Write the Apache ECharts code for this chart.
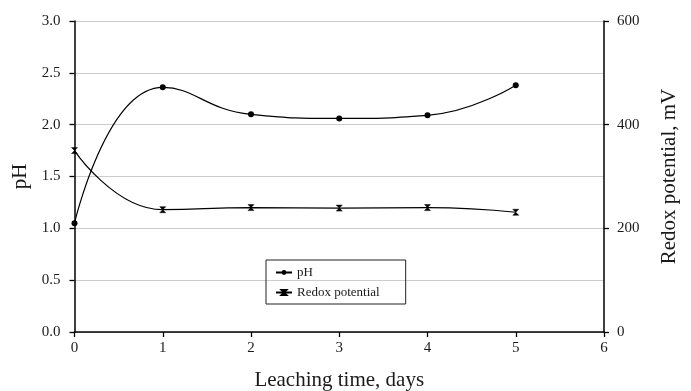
<!DOCTYPE html>
<html>
<head>
<meta charset="utf-8">
<script src="https://cdn.jsdelivr.net/npm/echarts@6/dist/echarts.min.js"></script>
<style>
html,body{margin:0;padding:0;background:#fff;}
#c{width:691px;height:391px;}
</style>
</head>
<body>
<div id="c"></div>
<script>
// Data
const days = [0, 1, 2, 3, 4, 5];
const phValues = [1.05, 2.36, 2.10, 2.06, 2.09, 2.38];
const redoxValues = [350, 236, 240, 239, 240, 231];
const seriesNames = ['pH', 'Redox potential'];
const xTitle = 'Leaching time, days';
const leftTitle = 'pH';
const rightTitle = 'Redox potential, mV';

const font = 'Liberation Serif';
const ink = '#1a1a1a';

const chart = echarts.init(document.getElementById('c'), null, {renderer: 'canvas'});
chart.setOption({
  backgroundColor: '#fff',
  animation: false,
  textStyle: {fontFamily: font, color: ink},
  grid: {left: 74.5, right: 87, top: 21, bottom: 59, containLabel: false, outerBoundsMode: 'none'},
  legend: {
    left: 266, top: 260,
    orient: 'vertical',
    data: seriesNames,
    borderColor: '#222', borderWidth: 1,
    padding: [6, 26, 5, 9],
    itemGap: 7,
    itemWidth: 16, itemHeight: 6,
    textStyle: {fontFamily: font, fontSize: 13, color: ink}
  },
  xAxis: {
    type: 'value', min: 0, max: 6, interval: 1,
    name: xTitle, nameLocation: 'middle', nameGap: 38,
    nameTextStyle: {fontFamily: font, fontSize: 21, color: ink},
    axisLine: {show: true, lineStyle: {color: '#000', width: 1.5}},
    axisTick: {show: true, length: 5, lineStyle: {color: '#000', width: 1.3}},
    axisLabel: {fontFamily: font, fontSize: 15, color: ink, margin: 9},
    splitLine: {show: false}
  },
  yAxis: [{
    type: 'value', min: 0, max: 3, interval: 0.5, position: 'left',
    name: leftTitle, nameLocation: 'middle', nameGap: 33,
    nameTextStyle: {fontFamily: font, fontSize: 21, color: ink},
    axisLine: {show: true, lineStyle: {color: '#000', width: 1.5}},
    axisTick: {show: true, length: 5, lineStyle: {color: '#000', width: 1.3}},
    axisLabel: {fontFamily: font, fontSize: 15, color: ink, margin: 14,
      formatter: v => v.toFixed(1)},
    splitLine: {show: true, lineStyle: {color: '#cccccc', width: 1.2}}
  }, {
    type: 'value', min: 0, max: 600, interval: 200, position: 'right',
    name: rightTitle, nameLocation: 'middle', nameGap: 55,
    nameTextStyle: {fontFamily: font, fontSize: 21, color: ink},
    axisLine: {show: true, lineStyle: {color: '#000', width: 1.5}},
    axisTick: {show: true, length: 5, lineStyle: {color: '#000', width: 1.3}},
    axisLabel: {fontFamily: font, fontSize: 15, color: ink, margin: 13},
    splitLine: {show: false}
  }],
  series: [{
    name: seriesNames[0], type: 'line', yAxisIndex: 0,
    data: days.map((d, i) => [d, phValues[i]]),
    smooth: 0.5,
    symbol: 'circle', symbolSize: 6,
    lineStyle: {color: '#000', width: 1.2},
    itemStyle: {color: '#000'}
  }, {
    name: seriesNames[1], type: 'line', yAxisIndex: 1,
    data: days.map((d, i) => [d, redoxValues[i]]),
    smooth: 0.5,
    symbol: 'path://M0 0L10 0L0 10L10 10Z', symbolSize: [6, 6],
    lineStyle: {color: '#000', width: 1.2},
    itemStyle: {color: '#000', borderColor: '#000', borderWidth: 0.5}
  }]
});
</script>
</body>
</html>
